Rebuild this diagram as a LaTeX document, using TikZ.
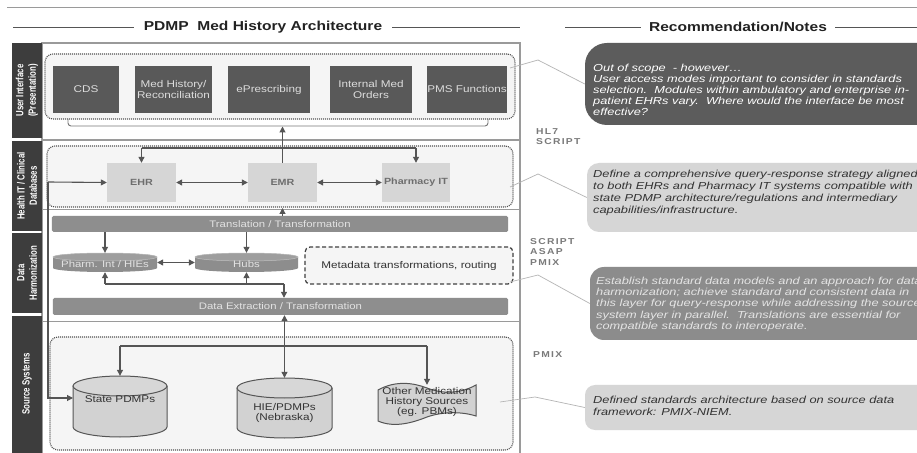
\documentclass[tikz,border=0pt]{standalone}
\usepackage{fontspec}
\setmainfont{Liberation Sans}[FakeStretch=1.2]
\newfontfamily\narrowfont{Liberation Sans}[FakeStretch=0.75]
\newfontfamily\notefont{Liberation Sans}[FakeStretch=1.26]
\newfontfamily\stdfont{Liberation Sans}[FakeStretch=1.2,LetterSpace=15]
\usetikzlibrary{arrows.meta,calc}
\definecolor{stripc}{HTML}{3D3D3D}
\definecolor{uic}{HTML}{595959}
\definecolor{uitext}{HTML}{DDDDDD}
\definecolor{litec}{HTML}{D6D6D6}
\definecolor{litetext}{HTML}{6E6E6E}
\definecolor{barc}{HTML}{8E8E8E}
\definecolor{bartext}{HTML}{E2E2E2}
\definecolor{linec}{HTML}{555555}
\definecolor{framec}{HTML}{9A9A9A}
\definecolor{dotc}{HTML}{505050}
\definecolor{panelc}{HTML}{F5F5F5}
\definecolor{notedark}{HTML}{5C5C5C}
\definecolor{notelite}{HTML}{D6D6D6}
\definecolor{notemid}{HTML}{8C8C8C}
\definecolor{thinc}{HTML}{B4B4B4}
\definecolor{stdc}{HTML}{7A7A7A}
\definecolor{cylc}{HTML}{D2D2D2}
\definecolor{flatc}{HTML}{8D8D8D}
\definecolor{flattop}{HTML}{9E9E9E}
\definecolor{hdrc}{HTML}{222222}
\definecolor{note3text}{HTML}{E4E4E4}
\begin{document}
\begin{tikzpicture}[x=1bp,y=-1bp,
  uibox/.style={fill=uic,text=uitext,inner sep=0pt,align=center,font=\fontsize{9.8}{11.5}\selectfont},
  litebox/.style={fill=litec,text=litetext,inner sep=0pt,font=\fontsize{9}{11}\selectfont\bfseries},
  barbox/.style={fill=barc,text=bartext,inner sep=0pt,rounded corners=1.5bp,font=\fontsize{9.5}{11}\selectfont},
  dotbox/.style={draw=dotc,line width=1.1bp,dash pattern=on 1bp off 1bp,rounded corners=8bp,fill=panelc,inner sep=0pt},
  ghost/.style={inner sep=0pt},
  arr/.style={draw=linec,line width=1.1bp,-{Triangle[length=6bp,width=6bp]}},
  darr/.style={draw=linec,line width=1.1bp,{Triangle[length=6bp,width=6bp]}-{Triangle[length=6bp,width=6bp]}},
  plainln/.style={draw=linec,line width=1.1bp},
  thinln/.style={draw=thinc,line width=0.7bp},
  hdr/.style={text=hdrc,font=\fontsize{13}{15}\selectfont\bfseries,inner sep=0pt},
  hline/.style={draw=linec,line width=0.9bp},
  striplab/.style={rotate=90,text=white,align=center,inner sep=0pt,font=\narrowfont\bfseries\fontsize{10.5}{12.5}\selectfont},
  cyltext/.style={align=center,inner sep=0pt,text=black!80,font=\fontsize{9.8}{10.5}\selectfont},
  flattext/.style={inner sep=0pt,text=bartext,font=\fontsize{9.5}{11}\selectfont},
  notebox/.style={inner sep=0pt,rounded corners=#1},
  notetxt/.style={inner sep=0pt,align=left,anchor=north west},
  stdlab/.style={inner sep=0pt,align=left,anchor=north west,text=stdc,font=\stdfont\bfseries\fontsize{8.6}{10.5}\selectfont}
]
\useasboundingbox (0,0) rectangle (917,453);
\clip (0,0) rectangle (917,453);
\fill[white] (0,0) rectangle (917,453);

% top rule and headers
\draw[draw=framec,line width=1bp] (7,8) -- (917,8);
\node[hdr] (t1) at (263,27) {PDMP\ \ Med History Architecture};
\node[hdr] (t2) at (738,27) {Recommendation/Notes};
\draw[hline] (13,27) -- ([xshift=-10bp]t1.west);
\draw[hline] ([xshift=10bp]t1.east) -- (520,27);
\draw[hline] (565,27) -- ([xshift=-8bp]t2.west);
\draw[hline] ([xshift=8bp]t2.east) -- (917,27);

% frame
\draw[draw=framec,line width=1.6bp] (42,460) -- (42,43) -- (520,43) -- (520,460);
\draw[draw=framec,line width=1.2bp] (42,140) -- (520,140);
\draw[draw=framec,line width=1.2bp] (42,209.5) -- (520,209.5);
\draw[draw=framec,line width=1.2bp] (42,321.5) -- (520,321.5);

% strips
\fill[stripc] (12,43) rectangle (42,138.5);
\fill[stripc] (12,141) rectangle (42,231);
\fill[stripc] (12,233.5) rectangle (42,313.5);
\fill[stripc] (12,316) rectangle (42,460);
\node[striplab] (s1) at (27,90.5) {User Interface\\(Presentation)};
\node[striplab] (s2) at (27,186) {Health IT / Clinical\\Databases};
\node[striplab] (s3) at (27,273) {Data\\Harmonization};
\node[striplab] (s4) at (27,384) {Source Systems};

% panels
\node[dotbox,minimum width=470bp,minimum height=65bp] (uip) at (280,86.5) {};
\node[dotbox,minimum width=466bp,minimum height=61bp] (hitp) at (280,176.5) {};
\node[dotbox,minimum width=463bp,minimum height=113bp] (srcp) at (281.5,393.5) {};

% user interface boxes
\node[uibox,minimum width=66bp,minimum height=47bp] (cds) at (86,89.5) {CDS};
\node[uibox,minimum width=77bp,minimum height=47bp] (medh) at (173.5,89.5) {Med History/\\Reconciliation};
\node[uibox,minimum width=82bp,minimum height=47bp] (epr) at (269,89.5) {ePrescribing};
\node[uibox,minimum width=82bp,minimum height=47bp] (imo) at (371,89.5) {Internal Med\\Orders};
\node[uibox,minimum width=80bp,minimum height=47bp] (pms) at (467,89.5) {PMS Functions};
\draw[draw=linec!80,line width=0.9bp,rounded corners=3bp] (68,119) -- (68,126) -- (488,126) -- (488,119);
\coordinate (brk) at (282.5,126.5);

% health IT boxes
\node[litebox,minimum width=69bp,minimum height=39bp] (ehr) at (141.5,182.5) {EHR};
\node[litebox,minimum width=69bp,minimum height=39bp] (emr) at (282.5,182.5) {EMR};
\node[litebox,minimum width=68bp,minimum height=39bp] (pit) at (416,182.5) {Pharmacy IT};
\draw[arr] (emr.north) -- (brk);
\coordinate (hj) at (282.5,148);
\draw[plainln] (ehr.north |- hj) -- (pit.north |- hj);
\draw[arr] (ehr.north |- hj) -- (ehr.north);
\draw[arr] (pit.north |- hj) -- (pit.north);
\draw[darr] (ehr.east) -- (emr.west);
\draw[darr] (emr.east) -- (pit.west);

% data harmonization
\node[barbox,minimum width=456bp,minimum height=16bp] (trans) at (280,224) {Translation / Transformation};
\node[barbox,minimum width=455bp,minimum height=17bp] (ext) at (280.5,306.5) {Data Extraction / Transformation};
\coordinate (hitin) at (282.5,208);
\draw[arr] (trans.north -| hitin) -- (hitin);

\node[ghost,minimum width=104bp,minimum height=19bp] (pharm) at (105,262.5) {};
\node[ghost,minimum width=103bp,minimum height=19bp] (hubs) at (246.5,262.5) {};
\path[fill=flatc] (53,257) -- (53,268) arc[start angle=180,end angle=360,x radius=52bp,y radius=4bp] -- (157,257) arc[start angle=0,end angle=180,x radius=52bp,y radius=4bp] -- cycle;
\path[fill=flattop,draw=black!25,line width=0.5bp] (105,257) ellipse[x radius=52bp,y radius=4bp];
\path[fill=flatc] (195,257) -- (195,268) arc[start angle=180,end angle=360,x radius=51.5bp,y radius=4bp] -- (298,257) arc[start angle=0,end angle=180,x radius=51.5bp,y radius=4bp] -- cycle;
\path[fill=flattop,draw=black!25,line width=0.5bp] (246.5,257) ellipse[x radius=51.5bp,y radius=4bp];
\node[flattext] (pharmt) at (105,264) {Pharm. Int / HIEs};
\node[flattext] (hubst) at (246.5,264) {Hubs};

\node[draw=black!75,line width=1.2bp,dash pattern=on 4bp off 2.5bp,rounded corners=5bp,fill=panelc,inner sep=0pt,minimum width=208bp,minimum height=37bp,text=black!80,font=\fontsize{9.8}{11}\selectfont] (meta) at (409,265.5) {Metadata transformations, routing};

\draw[arr] (trans.south -| pharm) -- (pharm.north);
\draw[arr] (trans.south -| hubs) -- (hubs.north);
\draw[darr] (pharm.east) -- (hubs.west);
\coordinate (dj) at (284,284);
\draw[plainln] (pharm.south |- dj) -- (dj);
\draw[arr] (pharm.south |- dj) -- (pharm.south);
\draw[arr] (hubs.south |- dj) -- (hubs.south);
\draw[arr] (dj) -- (ext.north -| dj);

% source systems
\node[ghost,minimum width=94bp,minimum height=61bp] (sp) at (120,406.5) {};
\node[ghost,minimum width=95bp,minimum height=60bp] (hie) at (284.5,408) {};
\node[ghost,minimum width=98bp,minimum height=38bp] (oth) at (427,404) {};
\path[fill=cylc] (73,386) -- (73,427) arc[start angle=180,end angle=360,x radius=47bp,y radius=10bp] -- (167,386) arc[start angle=0,end angle=180,x radius=47bp,y radius=10bp] -- cycle;
\draw[linec,line width=1bp] (73,386) -- (73,427) arc[start angle=180,end angle=360,x radius=47bp,y radius=10bp] -- (167,386);
\draw[linec,line width=1bp,fill=cylc!90!white] (120,386) ellipse[x radius=47bp,y radius=10bp];
\path[fill=cylc] (237,388) -- (237,428) arc[start angle=180,end angle=360,x radius=47.5bp,y radius=10bp] -- (332,388) arc[start angle=0,end angle=180,x radius=47.5bp,y radius=10bp] -- cycle;
\draw[linec,line width=1bp] (237,388) -- (237,428) arc[start angle=180,end angle=360,x radius=47.5bp,y radius=10bp] -- (332,388);
\draw[linec,line width=1bp,fill=cylc!90!white] (284.5,388) ellipse[x radius=47.5bp,y radius=10bp];
\draw[linec,line width=1bp,fill=cylc] (378,390) .. controls (396,380) and (414,383) .. (427,388) .. controls (442,394) and (460,394) .. (476,385) -- (476,416) .. controls (460,411) and (441,412) .. (427,417) .. controls (412,423) and (394,428) .. (378,421) -- cycle;
\node[cyltext] (spt) at (120,399) {State PDMPs};
\node[cyltext] (hiet) at (284.5,413) {HIE/PDMPs\\(Nebraska)};
\node[cyltext] (otht) at (427,402) {Other Medication\\History Sources\\(eg. PBMs)};

\draw[darr] (ext.south -| hie) -- (hie.north);
\coordinate (sj) at (284.5,346);
\draw[plainln] (sp.north |- sj) -- (oth.north |- sj);
\draw[arr] (sp.north |- sj) -- (sp.north);
\draw[arr] (oth.north |- sj) -- (oth.north);

\coordinate (lj) at (48,182);
\coordinate (spin) at (73,398);
\draw[arr] (lj) -- (ehr.west);
\draw[arr] (lj) |- (spin);

% standards labels
\node[stdlab] (std1) at (536,128) {HL7\\SCRIPT};
\node[stdlab] (std2) at (530,238) {SCRIPT\\ASAP\\PMIX};
\node[stdlab] (std3) at (533,351) {PMIX};

% notes
\node[notebox=22bp,fill=notedark,minimum width=360bp,minimum height=82bp] (note1) at (765,84) {};
\node[notebox=12bp,fill=notelite,minimum width=360bp,minimum height=69bp] (note2) at (767,197.5) {};
\node[notebox=14bp,fill=notemid,minimum width=360bp,minimum height=73bp] (note3) at (770,303.5) {};
\node[notebox=10bp,fill=notelite,minimum width=360bp,minimum height=45bp] (note4) at (765,407.5) {};

\node[notetxt,text=white,font=\notefont\itshape\fontsize{10.2}{11.2}\selectfont] (n1t) at (593,63.5) {Out of scope\ \ - however…\\User access modes important to consider in standards\\selection.\ \ Modules within ambulatory and enterprise in-\\patient EHRs vary.\ \ Where would the interface be most\\effective?};
\node[notetxt,text=black!80,font=\notefont\itshape\fontsize{10.2}{12.3}\selectfont] (n2t) at (593,169.5) {Define a comprehensive query-response strategy aligned\\to both EHRs and Pharmacy IT systems compatible with\\state PDMP architecture/regulations and intermediary\\capabilities/infrastructure.};
\node[notetxt,text=note3text,font=\notefont\itshape\fontsize{10.2}{11.5}\selectfont] (n3t) at (596,276.5) {Establish standard data models and an approach for data\\harmonization; achieve standard and consistent data in\\this layer for query-response while addressing the source\\system layer in parallel.\ \ Translations are essential for\\compatible standards to interoperate.};
\node[notetxt,text=black!80,font=\notefont\itshape\fontsize{10.2}{12}\selectfont] (n4t) at (593,395.5) {Defined standards architecture based on source data\\framework: PMIX-NIEM.};

% thin connectors to notes
\coordinate (c1a) at (510,68); \coordinate (c1b) at (538,60);
\coordinate (c2a) at (510,187); \coordinate (c2b) at (538,174);
\coordinate (c3a) at (510,282); \coordinate (c3b) at (538,275);
\coordinate (c4a) at (500,402); \coordinate (c4b) at (535,397);
\draw[thinln] (c1a) -- (c1b) -- (note1.west);
\draw[thinln] (c2a) -- (c2b) -- (note2.west);
\draw[thinln] (c3a) -- (c3b) -- (note3.west);
\draw[thinln] (c4a) -- (c4b) -- (note4.west);
\end{tikzpicture}
\end{document}
